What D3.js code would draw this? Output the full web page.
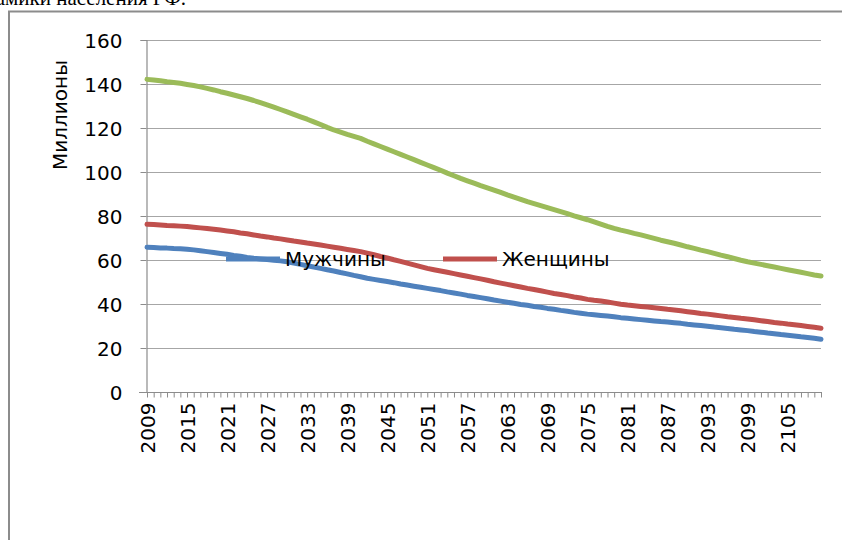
<!DOCTYPE html>
<html>
<head>
<meta charset="utf-8">
<script src="https://cdn.jsdelivr.net/npm/d3@7"></script>
<style>
  body { margin: 0; background: #fff; }
  svg { display: block; }
  .ax text { font-family: "DejaVu Sans", sans-serif; font-size: 20px; fill: #000; }
</style>
</head>
<body>
<div id="container"></div>
<script>
// годы 2009..2110
const years = d3.range(2009, 2111);

const total = [
  142.1, 141.8, 141.5, 141.0, 140.7, 140.3, 139.8, 139.3, 138.7, 138.0,
  137.3, 136.5, 135.8, 135.0, 134.2, 133.4, 132.5, 131.5, 130.5, 129.5,
  128.4, 127.3, 126.2, 125.1, 124.0, 122.8, 121.6, 120.3, 119.1, 118.1,
  117.1, 116.2, 115.3, 114.0, 112.8, 111.6, 110.4, 109.2, 108.0, 106.8,
  105.6, 104.4, 103.2, 102.0, 100.8, 99.5, 98.3, 97.1, 96.0, 94.9,
  93.8, 92.8, 91.8, 90.7, 89.6, 88.6, 87.6, 86.5, 85.6, 84.7,
  83.8, 82.9, 82.0, 81.1, 80.1, 79.2, 78.3, 77.3, 76.3, 75.3,
  74.4, 73.6, 72.9, 72.1, 71.4, 70.6, 69.8, 69.0, 68.3, 67.6,
  66.8, 66.0, 65.3, 64.5, 63.8, 63.0, 62.2, 61.5, 60.7, 59.9,
  59.2, 58.6, 58.0, 57.4, 56.8, 56.2, 55.6, 55.0, 54.4, 53.8,
  53.2, 52.7
];

const women = [
  76.2, 76.1, 75.9, 75.7, 75.6, 75.4, 75.2, 74.9, 74.6, 74.3,
  74.0, 73.6, 73.2, 72.8, 72.3, 71.9, 71.4, 70.9, 70.5, 70.0,
  69.6, 69.1, 68.6, 68.2, 67.7, 67.3, 66.8, 66.3, 65.8, 65.3,
  64.8, 64.3, 63.8, 63.1, 62.4, 61.6, 60.9, 60.1, 59.4, 58.6,
  57.8, 57.0, 56.2, 55.6, 55.0, 54.4, 53.8, 53.2, 52.6, 52.0,
  51.4, 50.8, 50.1, 49.5, 48.9, 48.3, 47.7, 47.1, 46.6, 46.0,
  45.4, 44.8, 44.3, 43.8, 43.2, 42.7, 42.1, 41.7, 41.4, 40.9,
  40.4, 39.9, 39.5, 39.2, 38.9, 38.6, 38.3, 38.0, 37.6, 37.3,
  36.9, 36.5, 36.1, 35.7, 35.4, 35.0, 34.6, 34.2, 33.9, 33.5,
  33.2, 32.8, 32.4, 32.0, 31.6, 31.3, 30.9, 30.6, 30.2, 29.8,
  29.4, 29.0
];

const men = [
  65.8, 65.7, 65.5, 65.4, 65.2, 65.1, 64.9, 64.6, 64.2, 63.8,
  63.4, 63.0, 62.6, 62.1, 61.7, 61.2, 60.8, 60.5, 60.2, 59.9,
  59.6, 59.2, 58.6, 58.0, 57.4, 56.8, 56.2, 55.6, 55.0, 54.3,
  53.7, 53.0, 52.4, 51.7, 51.2, 50.7, 50.2, 49.7, 49.1, 48.6,
  48.1, 47.6, 47.1, 46.6, 46.1, 45.5, 45.0, 44.5, 43.9, 43.4,
  42.9, 42.4, 41.8, 41.3, 40.8, 40.3, 39.8, 39.4, 38.9, 38.5,
  38.0, 37.6, 37.1, 36.7, 36.2, 35.8, 35.4, 35.1, 34.8, 34.5,
  34.2, 33.8, 33.5, 33.2, 32.9, 32.6, 32.3, 32.0, 31.8, 31.5,
  31.2, 30.8, 30.5, 30.2, 29.9, 29.5, 29.2, 28.9, 28.5, 28.2,
  27.9, 27.5, 27.2, 26.8, 26.5, 26.1, 25.8, 25.5, 25.1, 24.8,
  24.4, 24.0
];

const yTicks = [0, 20, 40, 60, 80, 100, 120, 140, 160];
const seriesNames = ["Мужчины", "Женщины"];

const width = 842, height = 540;
const plotLeft = 147, plotRight = 821, plotTop = 40, plotBottom = 392;

const svg = d3.select("#container").append("svg")
    .attr("width", width)
    .attr("height", height);

// подпись над диаграммой (в оригинале обрезана краем)
svg.append("text")
    .attr("x", 186).attr("y", 5)
    .attr("text-anchor", "end")
    .style("font-family", "'Liberation Serif', serif")
    .style("font-size", "21px")
    .text("Прогноз динамики населения РФ.");

// рамка диаграммы
svg.append("path")
    .attr("d", `M9,${height + 5}V11.5H${width + 5}`)
    .attr("fill", "none")
    .attr("stroke", "#8c8c8c")
    .attr("stroke-width", 2);

const x = d3.scalePoint().domain(years).range([plotLeft, plotRight]);
const y = d3.scaleLinear().domain([0, 160]).range([plotBottom, plotTop]);

// сетка
svg.append("g")
    .selectAll("line")
    .data(yTicks.filter(d => d > 0))
    .join("line")
    .attr("x1", plotLeft).attr("x2", plotRight)
    .attr("y1", d => y(d) + 0.5).attr("y2", d => y(d) + 0.5)
    .attr("stroke", "#a6a6a6")
    .attr("stroke-width", 1.2);

// ось Y
const yAxis = svg.append("g")
    .attr("class", "ax")
    .attr("transform", `translate(${plotLeft - 0.5},0)`)
    .call(d3.axisLeft(y).tickValues(yTicks).tickSize(6).tickPadding(18));
yAxis.select(".domain").attr("stroke", "#8c8c8c").attr("stroke-width", 1.2);
yAxis.selectAll(".tick line").attr("stroke", "#8c8c8c");
yAxis.selectAll("text").attr("dy", "0.36em");

svg.append("text")
    .attr("transform", `translate(67,${(plotTop + plotBottom) / 2 - 101}) rotate(-90)`)
    .attr("text-anchor", "middle")
    .style("font-family", "'DejaVu Sans', sans-serif")
    .style("font-size", "20px")
    .text("Миллионы");

// ось X
const xAxis = svg.append("g")
    .attr("class", "ax")
    .attr("transform", `translate(0,${plotBottom + 0.5})`)
    .call(d3.axisBottom(x)
        .tickValues(years)
        .tickSize(5)
        .tickSizeOuter(0)
        .tickFormat(d => (d - 2009) % 6 === 0 ? d : ""));
xAxis.select(".domain").attr("d", `M${plotLeft - 8},0H${plotRight + 1}`)
    .attr("stroke", "#8c8c8c").attr("stroke-width", 1.2);
xAxis.selectAll(".tick line").attr("stroke", "#8c8c8c");
xAxis.selectAll("text")
    .attr("text-anchor", "end")
    .attr("transform", "rotate(-90)")
    .attr("x", -10)
    .attr("y", 0)
    .attr("dy", "0.36em");

// линии
const line = d3.line()
    .x((d, i) => x(years[i]))
    .y(d => y(d));

const series = [
    { values: total, color: "#9bbb59" },
    { values: women, color: "#c0504d" },
    { values: men, color: "#4f81bd" }
];

svg.append("g")
    .selectAll("path")
    .data(series)
    .join("path")
    .attr("d", d => line(d.values))
    .attr("fill", "none")
    .attr("stroke", d => d.color)
    .attr("stroke-width", 5)
    .attr("stroke-linejoin", "round")
    .attr("stroke-linecap", "round");

// легенда
const legend = svg.append("g")
    .selectAll("g")
    .data([
        { name: seriesNames[0], color: "#4f81bd", x0: 226 },
        { name: seriesNames[1], color: "#c0504d", x0: 443 }
    ])
    .join("g")
    .attr("transform", d => `translate(${d.x0},259)`);

legend.append("line")
    .attr("x1", 0).attr("x2", 54)
    .attr("stroke", d => d.color)
    .attr("stroke-width", 5);

legend.append("text")
    .attr("x", 59)
    .attr("dy", "0.36em")
    .style("font-family", "'DejaVu Sans', sans-serif")
    .style("font-size", "20px")
    .text(d => d.name);
</script>
</body>
</html>
